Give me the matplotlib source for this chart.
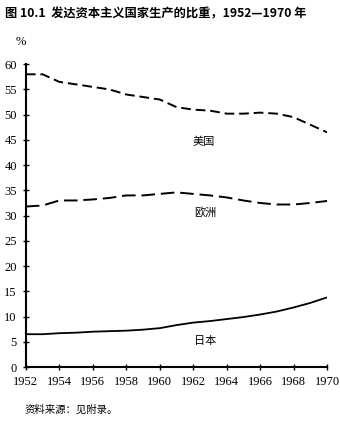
import matplotlib.pyplot as plt

# Share of production in developed capitalist countries, 1952-1970 (%)
years = list(range(1952, 1971))
usa = [58.0, 58.0, 56.5, 56.0, 55.5, 55.0, 54.0, 53.5, 53.0, 51.5,
       51.0, 50.8, 50.2, 50.2, 50.4, 50.2, 49.5, 48.0, 46.5]
europe = [31.8, 32.0, 33.0, 33.0, 33.2, 33.5, 34.0, 34.0, 34.3, 34.6,
          34.3, 34.0, 33.6, 33.0, 32.5, 32.2, 32.2, 32.5, 32.9]
japan = [6.5, 6.5, 6.7, 6.8, 7.0, 7.1, 7.2, 7.4, 7.7, 8.3,
         8.8, 9.1, 9.5, 9.9, 10.4, 11.0, 11.8, 12.7, 13.8]
xticks = list(range(1952, 1971, 2))
yticks = list(range(0, 61, 5))

cjk = ['Noto Sans CJK SC', 'DejaVu Sans']
serif = ['Liberation Serif', 'DejaVu Serif']

fig = plt.figure(figsize=(3.4, 4.28), dpi=100)
ax = fig.add_axes([0.076, 0.1425, 0.886, 0.7075])

ax.plot(years, usa, color='black', lw=1.4, ls=(0, (5, 2.5)))
ax.plot(years, europe, color='black', lw=1.4, ls=(0, (7, 3)))
ax.plot(years, japan, color='black', lw=1.3)

ax.text(1962.6, 44.6, '美国', family=cjk, fontsize=8, ha='center', va='center')
ax.text(1962.7, 30.7, '欧洲', family=cjk, fontsize=8, ha='center', va='center')
ax.text(1962.7, 5.1, '日本', family=cjk, fontsize=8, ha='center', va='center')

ax.set_xlim(1952, 1970)
ax.set_ylim(0, 60)
ax.set_xticks(xticks)
ax.set_yticks(yticks)
for lab in ax.get_xticklabels() + ax.get_yticklabels():
    lab.set_family(serif)
    lab.set_fontsize(9)
ax.tick_params(direction='inout', length=5, width=1, pad=4)
for s in ['top', 'right']:
    ax.spines[s].set_visible(False)
for s in ['left', 'bottom']:
    ax.spines[s].set_linewidth(1.5)

fig.text(0.015, 0.967, '图 10.1  发达资本主义国家生产的比重，1952—1970 年',
         family=cjk, fontsize=8.8, fontweight='bold', ha='left', va='center')
fig.text(0.047, 0.902, '%', family=serif, fontsize=9, ha='left', va='center')
fig.text(0.073, 0.042, '资料来源：见附录。', family=cjk, fontsize=7.5,
         ha='left', va='center')

fig.savefig('out.png', dpi=100)
